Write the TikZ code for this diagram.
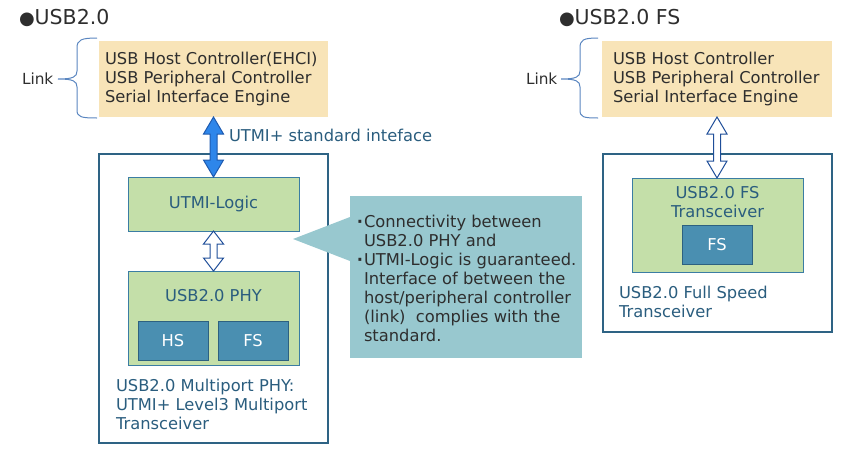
\documentclass[tikz,border=0pt]{standalone}
\usepackage{fontspec}
\setmainfont{DejaVu Sans}
\usetikzlibrary{calc}
\definecolor{tanc}{HTML}{F8E4B8}
\definecolor{txtc}{HTML}{2E2E2E}
\definecolor{tealtxt}{HTML}{2A5D7E}
\definecolor{outerc}{HTML}{2E6384}
\definecolor{greenc}{HTML}{C4DFA9}
\definecolor{greenb}{HTML}{3B7DA3}
\definecolor{subc}{HTML}{4A8FB1}
\definecolor{subb}{HTML}{2D6180}
\definecolor{calloutc}{HTML}{98C8CF}
\definecolor{bluearr}{HTML}{2E86EA}
\definecolor{bluearrb}{HTML}{1F5BB0}
\definecolor{hollowb}{HTML}{1F4E99}
\definecolor{bracec}{HTML}{5A86C0}
\newcommand\dblarr[4]{% style, top, bottom, head length
  \draw[#1] let \p1=(#2), \p2=(#3) in
    (\x1,\y1) -- (\x1+10pt,\y1-#4) -- (\x1+3.5pt,\y1-#4) -- (\x1+3.5pt,\y2+#4)
    -- (\x1+10pt,\y2+#4) -- (\x1,\y2) -- (\x1-10pt,\y2+#4) -- (\x1-3.5pt,\y2+#4)
    -- (\x1-3.5pt,\y1-#4) -- (\x1-10pt,\y1-#4) -- cycle;}
\begin{document}
\begin{tikzpicture}[x=1pt,y=-1pt,
  every node/.style={inner sep=0pt,outer sep=0pt},
  body/.style={font=\fontsize{16.3}{19}\selectfont},
  titlef/.style={font=\fontsize{20.5}{22}\selectfont,text=txtc},
  tanbox/.style={fill=tanc,draw=none},
  outerbox/.style={draw=outerc,line width=2pt},
  greenbox/.style={fill=greenc,draw=greenb,line width=1pt},
  subbox/.style={fill=subc,draw=subb,line width=1pt,text=white,body},
  teal/.style={body,text=tealtxt},
  dark/.style={body,text=txtc},
  linkf/.style={font=\fontsize{15.3}{19}\selectfont,text=txtc},
  bluearrow/.style={fill=bluearr,draw=bluearrb,line width=1pt,line join=miter},
  hollowarrow/.style={fill=white,draw=hollowb,line width=1pt,line join=miter},
  bracestyle/.style={draw=bracec,line width=1pt}]
\useasboundingbox (0,0) rectangle (850,455);
% ---------- left: USB2.0 ----------
\node[titlef,anchor=west] (t1) at (19,18) {{\fontsize{18}{20}\selectfont ●}USB2.0};
\node[tanbox,minimum width=229,minimum height=76] (link1) at (213.5,79) {};
\node[dark,anchor=west,align=left] (link1txt) at (105,79) {USB Host Controller(EHCI)\\USB Peripheral Controller\\Serial Interface Engine};
\node[linkf,anchor=west] (linklbl1) at (22,79) {Link};
\draw[bracestyle] (97,38) .. controls (81,38) and (77,40) .. (77,48) -- (77,71)
  .. controls (77,77) and (73,79) .. (58,79)
  .. controls (73,79) and (77,81) .. (77,87) -- (77,110)
  .. controls (77,117) and (81,118) .. (97,118);
\node[outerbox,minimum width=229,minimum height=289] (outer1) at (213.5,298.5) {};
\node[greenbox,minimum width=171,minimum height=54] (utmi) at (213.5,204) {};
\node[teal] at (utmi.center) {UTMI-Logic};
\node[greenbox,minimum width=171,minimum height=94] (phy) at (213.5,318) {};
\node[teal] (phytxt) at (213.5,296) {USB2.0 PHY};
\node[subbox,minimum width=70,minimum height=39] (hs) at (173,340.5) {HS};
\node[subbox,minimum width=70,minimum height=39] (fs1) at (253,340.5) {FS};
\node[teal,anchor=west,align=left] (mplbl) at (116,404) {USB2.0 Multiport PHY:\\UTMI+ Level3 Multiport\\Transceiver};
\dblarr{bluearrow}{link1.south}{utmi.north}{17pt}
\node[teal,anchor=west] (utmilbl) at (229,135) {UTMI+ standard inteface};
\dblarr{hollowarrow}{utmi.south}{phy.north}{13pt}
% callout
\fill[calloutc] (350,196) rectangle (582,358);
\fill[calloutc] (350,217) -- (293,239) -- (350,261) -- cycle;
\coordinate (calloutbox) at (350,196);
\node[dark,anchor=west,align=left] (callouttxt) at (364,278.5)
 {\llap{\textbf{·}\hspace{1pt}}Connectivity between\\USB2.0 PHY and\\\llap{\textbf{·}\hspace{1pt}}UTMI-Logic is guaranteed.\\Interface of between the\\host/peripheral controller\\(link)\ \ complies with the\\standard.};
% ---------- right: USB2.0 FS ----------
\node[titlef,anchor=west] (t2) at (559,18) {{\fontsize{18}{20}\selectfont ●}USB2.0 FS};
\node[tanbox,minimum width=230,minimum height=76] (link2) at (717,79) {};
\node[dark,anchor=west,align=left] (link2txt) at (613,79) {USB Host Controller\\USB Peripheral Controller\\Serial Interface Engine};
\node[linkf,anchor=west] (linklbl2) at (526,79) {Link};
\draw[bracestyle] (598,38) .. controls (583,38) and (580,40) .. (580,48) -- (580,71)
  .. controls (580,77) and (576,79) .. (561,79)
  .. controls (576,79) and (580,81) .. (580,87) -- (580,110)
  .. controls (580,117) and (583,118) .. (598,118);
\node[outerbox,minimum width=229,minimum height=178] (outer2) at (717.5,243) {};
\node[greenbox,minimum width=171,minimum height=94] (fstr) at (717.5,225) {};
\node[teal,align=center] (fstrtxt) at (717.5,202.5) {USB2.0 FS\\Transceiver};
\node[subbox,minimum width=70,minimum height=39] (fs2) at (717,244.5) {FS};
\node[teal,anchor=west,align=left] (fslbl) at (619,301.5) {USB2.0 Full Speed\\Transceiver};
\dblarr{hollowarrow}{link2.south}{fstr.north}{17pt}
\end{tikzpicture}
\end{document}
